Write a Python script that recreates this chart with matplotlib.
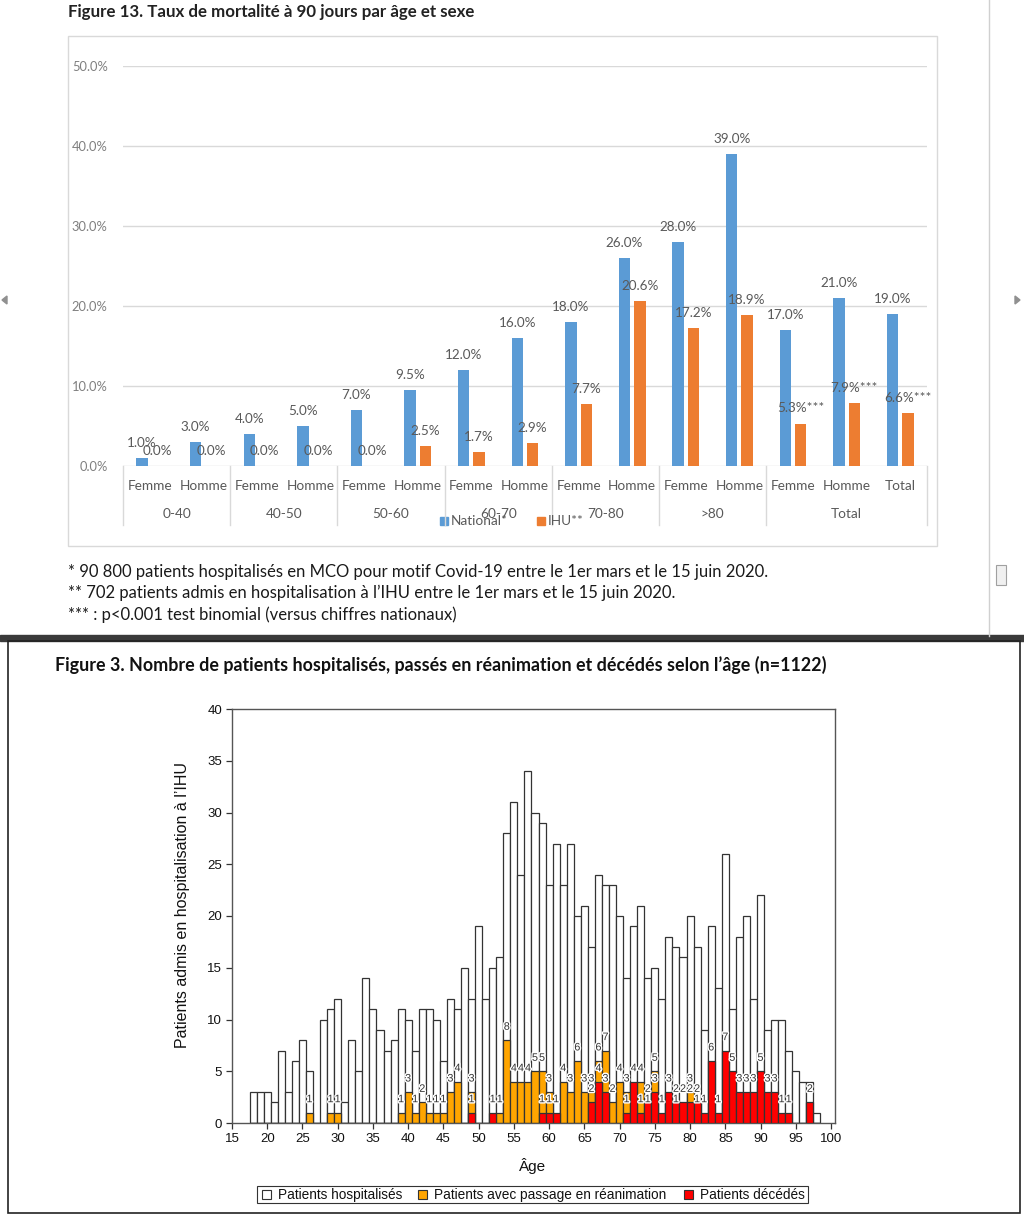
import matplotlib
matplotlib.use("Agg")
import matplotlib.pyplot as plt
from matplotlib.patches import Rectangle, Polygon
from matplotlib.transforms import blended_transform_factory
import matplotlib.patheffects as pe
import numpy as np

# ---------------- data : Figure 13 ----------------
cat_labels = ["Femme", "Homme"] * 6 + ["Femme", "Homme", "Total"]
group_labels = ["0-40", "40-50", "50-60", "60-70", "70-80", ">80", "Total"]
group_sizes = [2, 2, 2, 2, 2, 2, 3]
national = [1.0, 3.0, 4.0, 5.0, 7.0, 9.5, 12.0, 16.0, 18.0, 26.0, 28.0, 39.0, 17.0, 21.0, 19.0]
ihu = [0.0, 0.0, 0.0, 0.0, 0.0, 2.5, 1.7, 2.9, 7.7, 20.6, 17.2, 18.9, 5.3, 7.9, 6.6]
ihu_suffix = [""] * 12 + ["***"] * 3
pct_ticks = [0, 10, 20, 30, 40, 50]

# ---------------- data : Figure 3 ----------------
ages = list(range(18, 99))
hospitalises = [3, 3, 3, 2, 7, 3, 6, 8, 5, 0, 10, 11, 12,
                2, 8, 5, 14, 11, 9, 7, 8, 11, 10,
                7, 11, 11, 10, 6, 12, 11, 15, 12, 19,
                12, 15, 16, 28, 31, 24, 34, 30, 29, 23,
                27, 23, 27, 20, 21, 17, 24, 23, 23, 20,
                14, 19, 21, 14, 15, 12, 18, 17, 16, 20,
                17, 9, 19, 13, 26, 11, 18, 20, 12, 22,
                9, 10, 10, 7, 5, 4, 4, 1]
reanimation = [0, 0, 0, 0, 0, 0, 0, 0, 1, 0, 0, 1, 1,
               0, 0, 0, 0, 0, 0, 0, 0, 1, 3,
               1, 2, 1, 1, 1, 3, 4, 0, 3, 0,
               0, 0, 1, 8, 4, 4, 4, 5, 5, 3,
               0, 4, 3, 6, 3, 3, 6, 7, 2, 4,
               3, 0, 4, 1, 5, 0, 0, 1, 0, 3,
               1, 0, 0, 0, 0, 0, 0, 0, 0, 0,
               0, 0, 0, 0, 0, 0, 0, 0]
deces = [0, 0, 0, 0, 0, 0, 0, 0, 0, 0, 0, 0, 0,
         0, 0, 0, 0, 0, 0, 0, 0, 0, 0,
         0, 0, 0, 0, 0, 0, 0, 0, 1, 0,
         0, 1, 0, 0, 0, 0, 0, 0, 1, 1,
         1, 0, 0, 0, 0, 2, 4, 3, 0, 0,
         1, 4, 1, 2, 3, 1, 3, 2, 2, 2,
         2, 1, 6, 1, 7, 5, 3, 3, 3, 5,
         3, 3, 1, 1, 0, 0, 2, 0]
age_ticks = list(range(15, 101, 5))
count_ticks = list(range(0, 41, 5))

W, H = 1024, 1216
fig = plt.figure(figsize=(W / 100, H / 100), dpi=100)
fig.patch.set_facecolor("white")


def px_axes(x0, y0, x1, y1, **kw):
    return fig.add_axes([x0 / W, 1 - y1 / H, (x1 - x0) / W, (y1 - y0) / H], **kw)


bg = px_axes(0, 0, W, H)
bg.set_xlim(0, W)
bg.set_ylim(H, 0)
bg.axis("off")

TOPFONT = "Lato"
BOTFONT = "Liberation Sans"
GRAYTXT = "#595959"

# ================= top panel (Figure 13) =================
bg.text(68, 12, "Figure 13. Taux de mortalité à 90 jours par âge et sexe",
        fontfamily=TOPFONT, fontweight="bold", fontsize=12.2, color="#222222",
        ha="left", va="center")
# chart box
bg.add_patch(Rectangle((68, 36), 869, 510, fill=False, edgecolor="#D9D9D9", lw=1))
# page scrollbar decorations
bg.plot([989, 989], [0, 636], color="#D0D0D0", lw=1)
bg.add_patch(Rectangle((996, 565), 10, 20, facecolor="#F0F0F0", edgecolor="#A0A0A0", lw=0.8))
bg.add_patch(Polygon([[1015, 296], [1015, 304], [1020, 300]], closed=True, color="#909090"))
bg.add_patch(Polygon([[7, 296], [7, 304], [2, 300]], closed=True, color="#909090"))

ax1 = px_axes(123, 66, 927, 466)
ax1.patch.set_visible(False)
n = len(national)
x = np.arange(n) + 0.5
off, bw = 0.144, 0.215
ax1.bar(x - off, national, width=bw, color="#5B9BD5", zorder=3)
ax1.bar(x + off, ihu, width=bw, color="#ED7D31", zorder=3)
ax1.set_xlim(0, n)
ax1.set_ylim(0, 50)
ax1.set_yticks(pct_ticks)
ax1.set_yticklabels([f"{v:.1f}%" for v in pct_ticks], fontfamily=TOPFONT,
                    fontsize=9.3, color="#7F7F7F")
ax1.tick_params(axis="y", length=0, pad=11)
ax1.set_xticks([])
ax1.yaxis.grid(True, color="#D9D9D9", lw=1)
ax1.set_axisbelow(True)
for s in ax1.spines.values():
    s.set_visible(False)
for xi, v in zip(x, national):
    ax1.text(xi - off, v + 1.9, f"{v:.1f}%", ha="center", va="center",
             fontfamily=TOPFONT, fontsize=9.7, color=GRAYTXT, zorder=4)
for xi, v, sfx in zip(x, ihu, ihu_suffix):
    ax1.text(xi + off, v + 1.9, f"{v:.1f}%{sfx}", ha="center", va="center",
             fontfamily=TOPFONT, fontsize=9.7, color=GRAYTXT, zorder=5)

trans = blended_transform_factory(ax1.transData, bg.transData)
bounds = np.concatenate([[0], np.cumsum(group_sizes)])
for b in bounds:
    bg.plot([b, b], [466, 525], color="#D9D9D9", lw=1, transform=trans, clip_on=False)
for xi, lab in zip(x, cat_labels):
    bg.text(xi, 486, lab, transform=trans, ha="center", va="center",
            fontfamily=TOPFONT, fontsize=9.8, color=GRAYTXT)
for i, lab in enumerate(group_labels):
    xc = (bounds[i] + bounds[i + 1]) / 2
    bg.text(xc, 514, lab, transform=trans, ha="center", va="center",
            fontfamily=TOPFONT, fontsize=9.8, color=GRAYTXT)
# legend
bg.add_patch(Rectangle((440, 517), 8, 8, color="#5B9BD5"))
bg.text(451, 521, "National*", fontfamily=TOPFONT, fontsize=9.8, color=GRAYTXT,
        ha="left", va="center")
bg.add_patch(Rectangle((537, 517), 8, 8, color="#ED7D31"))
bg.text(548, 521, "IHU**", fontfamily=TOPFONT, fontsize=9.8, color=GRAYTXT,
        ha="left", va="center")

notes = ["* 90 800 patients hospitalisés en MCO pour motif Covid-19 entre le 1er mars et le 15 juin 2020.",
         "** 702 patients admis en hospitalisation à l\u2019IHU entre le 1er mars et le 15 juin 2020.",
         "*** : p<0.001 test binomial (versus chiffres nationaux)"]
for yy, t in zip([572, 593, 615], notes):
    bg.text(68, yy, t, fontfamily=TOPFONT, fontsize=12.0, color="#1a1a1a",
            ha="left", va="center")

# separator and bottom frame
bg.add_patch(Rectangle((0, 635), W, 6, color="#3a3a3a"))
bg.add_patch(Rectangle((8, 641), 1012, 572, fill=False, edgecolor="#222222", lw=1.2))

# ================= bottom panel (Figure 3) =================
bg.text(55, 665, "Figure 3. Nombre de patients hospitalisés, passés en réanimation et décédés selon l\u2019âge (n=1122)",
        fontfamily=TOPFONT, fontweight="bold", fontsize=12.9, color="#111111",
        ha="left", va="center")

ax2 = px_axes(232, 709, 835, 1123)
ax2.patch.set_visible(False)
edge = "#333333"
ax2.bar(ages, hospitalises, width=1.0, color="white", edgecolor=edge, lw=0.9, zorder=2)
ax2.bar(ages, reanimation, width=1.0, color="#FFA500", edgecolor=edge, lw=0.9, zorder=3)
ax2.bar(ages, deces, width=1.0, color="#FF0000", edgecolor=edge, lw=0.9, zorder=4)
halo = [pe.withStroke(linewidth=2, foreground="white")]
for a, r, d in zip(ages, reanimation, deces):
    if r > 0:
        ax2.text(a, r + 1.3, str(r), ha="center", va="center", fontfamily=BOTFONT,
                 fontsize=7.8, color="#333333", path_effects=halo, zorder=6)
    if d > 0:
        ax2.text(a, d + 1.3, str(d), ha="center", va="center", fontfamily=BOTFONT,
                 fontsize=7.8, color="#333333", path_effects=halo, zorder=6)
ax2.set_xlim(15, 15 + 603 / 7.047)
ax2.set_ylim(0, 40)
ax2.set_xticks(age_ticks)
ax2.set_yticks(count_ticks)
ax2.tick_params(direction="out", length=4, width=0.9, color="#333333", pad=3)
for lab in ax2.get_xticklabels() + ax2.get_yticklabels():
    lab.set_fontfamily(BOTFONT)
    lab.set_fontsize(9.5)
    lab.set_color("#111111")
for s in ax2.spines.values():
    s.set_color("#555555")
    s.set_linewidth(1)

bg.text(182, 905, "Patients admis en hospitalisation à l\u2019IHU", rotation=90,
        fontfamily=BOTFONT, fontsize=11.5, color="#111111", ha="center", va="center")
bg.text(533, 1166, "Âge", fontfamily=BOTFONT, fontsize=11, color="#111111",
        ha="center", va="center")

# legend
bg.add_patch(Rectangle((257, 1186), 551, 17, fill=False, edgecolor="#333333", lw=0.8))
leg = [(262, "white", "Patients hospitalisés"),
       (418, "#FFA500", "Patients avec passage en réanimation"),
       (684, "#FF0000", "Patients décédés")]
for xx, col, txt in leg:
    bg.add_patch(Rectangle((xx, 1190), 9, 9, facecolor=col, edgecolor="#333333", lw=0.8))
    bg.text(xx + 16, 1195, txt, fontfamily=BOTFONT, fontsize=9.8, color="#111111",
            ha="left", va="center")

fig.savefig("out.png", dpi=100, facecolor="white")
